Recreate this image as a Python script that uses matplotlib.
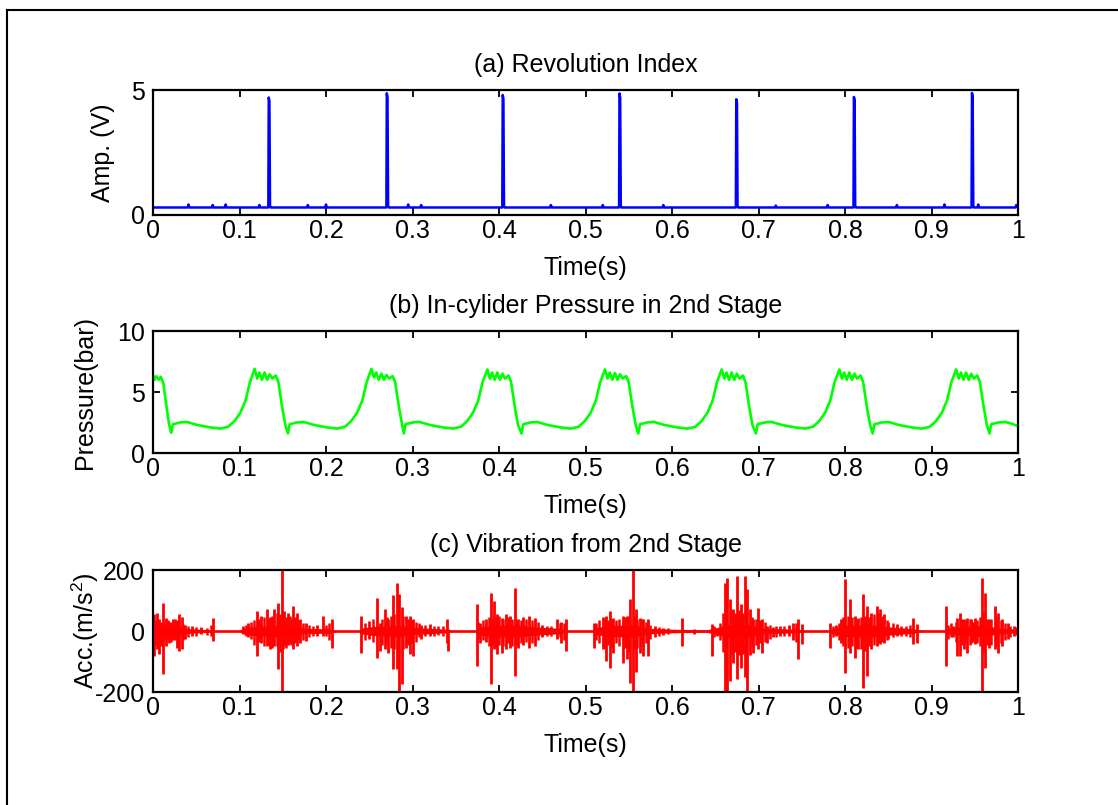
import matplotlib
matplotlib.use("Agg")
import matplotlib.pyplot as plt
from matplotlib.lines import Line2D

plt.rcParams['font.family'] = ['Liberation Sans', 'DejaVu Sans']
plt.rcParams['mathtext.fontset'] = 'custom'
plt.rcParams['mathtext.rm'] = 'Liberation Sans'
plt.rcParams['mathtext.it'] = 'Liberation Sans:italic'

# ---------------- data ----------------
x_ticks = [0, 0.1, 0.2, 0.3, 0.4, 0.5, 0.6, 0.7, 0.8, 0.9, 1.0]
x_tick_labels = ['0', '0.1', '0.2', '0.3', '0.4', '0.5', '0.6', '0.7', '0.8', '0.9', '1']

titles = ['(a) Revolution Index', '(b) In-cylider Pressure in 2nd Stage',
          '(c) Vibration from 2nd Stage']
ylabels = ['Amp. (V)', 'Pressure(bar)', 'Acc.(m/s$^2$)']

# (a) revolution index (V)
rev_t = [0.000, 0.040, 0.041, 0.042, 0.068, 0.069, 0.070, 0.083, 0.084, 0.085,
         0.122, 0.123, 0.124, 0.1333, 0.1338, 0.1346, 0.1353, 0.1360,
         0.178, 0.179, 0.180, 0.199, 0.200, 0.201, 0.2698, 0.2703, 0.2711, 0.2718, 0.2725,
         0.294, 0.295, 0.296, 0.309, 0.310, 0.311, 0.4038, 0.4043, 0.4051, 0.4058, 0.4065,
         0.459, 0.460, 0.461, 0.519, 0.520, 0.521, 0.5388, 0.5393, 0.5401, 0.5408, 0.5415,
         0.589, 0.590, 0.591, 0.6738, 0.6743, 0.6751, 0.6758, 0.6765,
         0.719, 0.720, 0.721, 0.779, 0.780, 0.781, 0.8098, 0.8103, 0.8111, 0.8118, 0.8125,
         0.859, 0.860, 0.861, 0.914, 0.915, 0.916, 0.9463, 0.9468, 0.9476, 0.9483, 0.9490,
         0.953, 0.954, 0.955, 0.997, 0.998, 0.999, 1.000]
rev_v = [0.30, 0.30, 0.42, 0.30, 0.30, 0.40, 0.30, 0.30, 0.42, 0.30,
         0.30, 0.40, 0.30, 0.30, 4.70, 4.55, 0.35, 0.30,
         0.30, 0.40, 0.30, 0.30, 0.42, 0.30, 0.30, 4.87, 4.70, 0.35, 0.30,
         0.30, 0.42, 0.30, 0.30, 0.40, 0.30, 0.30, 4.80, 4.65, 0.35, 0.30,
         0.30, 0.40, 0.30, 0.30, 0.40, 0.30, 0.30, 4.86, 4.70, 0.35, 0.30,
         0.30, 0.40, 0.30, 0.30, 4.63, 4.50, 0.35, 0.30,
         0.30, 0.38, 0.30, 0.30, 0.40, 0.30, 0.30, 4.72, 4.60, 0.35, 0.30,
         0.30, 0.40, 0.30, 0.30, 0.42, 0.30, 0.30, 4.88, 4.72, 0.40, 0.30,
         0.30, 0.42, 0.30, 0.30, 0.40, 0.32, 0.30]

# (b) in-cylinder pressure (bar)
pres_t = [0.000, 0.002, 0.004, 0.0066, 0.009, 0.012, 0.0158, 0.0185,
          0.021, 0.023, 0.031, 0.039, 0.051, 0.066, 0.078, 0.087, 0.094, 0.101, 0.107, 0.112,
          0.1175, 0.1205, 0.123, 0.126, 0.129, 0.132, 0.135, 0.138, 0.142, 0.145, 0.149, 0.153,
          0.156, 0.158, 0.166, 0.174, 0.186, 0.201, 0.213, 0.222, 0.229, 0.236, 0.242, 0.247,
          0.2525, 0.2555, 0.258, 0.261, 0.264, 0.267, 0.270, 0.273, 0.277, 0.280, 0.284, 0.288,
          0.290, 0.292, 0.300, 0.308, 0.320, 0.335, 0.347, 0.356, 0.363, 0.370, 0.376, 0.381,
          0.3865, 0.3895, 0.392, 0.395, 0.398, 0.401, 0.404, 0.407, 0.411, 0.414, 0.418, 0.422,
          0.426, 0.428, 0.436, 0.444, 0.456, 0.471, 0.483, 0.492, 0.499, 0.506, 0.512, 0.517,
          0.5225, 0.5255, 0.528, 0.531, 0.534, 0.537, 0.540, 0.543, 0.547, 0.550, 0.554, 0.558,
          0.561, 0.563, 0.571, 0.579, 0.591, 0.606, 0.618, 0.627, 0.634, 0.641, 0.647, 0.652,
          0.6575, 0.6605, 0.663, 0.666, 0.669, 0.672, 0.675, 0.678, 0.682, 0.685, 0.689, 0.693,
          0.697, 0.699, 0.707, 0.715, 0.727, 0.742, 0.754, 0.763, 0.770, 0.777, 0.783, 0.788,
          0.7935, 0.7965, 0.799, 0.802, 0.805, 0.808, 0.811, 0.814, 0.818, 0.821, 0.825, 0.829,
          0.832, 0.834, 0.842, 0.850, 0.862, 0.877, 0.889, 0.898, 0.905, 0.912, 0.918, 0.923,
          0.9285, 0.9315, 0.934, 0.937, 0.940, 0.943, 0.946, 0.949, 0.953, 0.956, 0.960, 0.964,
          0.967, 0.969, 0.977, 0.985, 0.993, 1.000]
pres_v = [6.40, 6.00, 6.30, 6.00, 6.25, 5.70, 3.70, 2.40,
          1.65, 2.35, 2.50, 2.55, 2.30, 2.10, 2.00, 2.15, 2.60, 3.30, 4.30, 5.80,
          6.90, 6.10, 6.60, 6.00, 6.60, 6.00, 6.45, 6.10, 6.35, 5.80, 3.90, 2.30,
          1.60, 2.35, 2.50, 2.55, 2.30, 2.10, 2.00, 2.15, 2.60, 3.30, 4.30, 5.80,
          6.90, 6.20, 6.60, 6.00, 6.50, 6.00, 6.40, 6.10, 6.30, 5.80, 3.90, 2.30,
          1.60, 2.35, 2.50, 2.55, 2.30, 2.10, 2.00, 2.15, 2.60, 3.30, 4.30, 5.80,
          6.85, 6.10, 6.60, 6.00, 6.60, 6.00, 6.50, 6.10, 6.35, 5.80, 3.90, 2.30,
          1.60, 2.35, 2.50, 2.55, 2.30, 2.10, 2.00, 2.15, 2.60, 3.30, 4.30, 5.80,
          6.85, 6.10, 6.60, 6.00, 6.55, 6.00, 6.45, 6.10, 6.30, 5.80, 3.90, 2.30,
          1.60, 2.35, 2.50, 2.55, 2.30, 2.10, 2.00, 2.15, 2.60, 3.30, 4.30, 5.80,
          6.85, 6.10, 6.60, 6.00, 6.60, 6.00, 6.50, 6.10, 6.35, 5.80, 3.90, 2.30,
          1.60, 2.35, 2.50, 2.55, 2.30, 2.10, 2.00, 2.15, 2.60, 3.30, 4.30, 5.80,
          6.85, 6.10, 6.60, 6.00, 6.60, 6.00, 6.50, 6.10, 6.35, 5.80, 3.90, 2.30,
          1.60, 2.35, 2.50, 2.55, 2.30, 2.10, 2.00, 2.15, 2.60, 3.30, 4.30, 5.80,
          6.85, 6.10, 6.60, 6.00, 6.60, 6.00, 6.50, 6.10, 6.35, 5.80, 3.90, 2.30,
          1.60, 2.35, 2.50, 2.55, 2.40, 2.20]

# (c) vibration (m/s^2): dense-core envelope
vib_env_t = [0.000, 0.003, 0.015, 0.030, 0.040, 0.060, 0.072, 0.100, 0.104, 0.115, 0.140,
             0.160, 0.175, 0.205, 0.212, 0.238, 0.242, 0.255, 0.285, 0.300, 0.320, 0.340,
             0.346, 0.372, 0.376, 0.390, 0.420, 0.440, 0.470, 0.480, 0.508, 0.512, 0.530,
             0.556, 0.575, 0.600, 0.640, 0.656, 0.665, 0.690, 0.705, 0.745, 0.755, 0.782,
             0.786, 0.800, 0.830, 0.850, 0.880, 0.890, 0.914, 0.918, 0.930, 0.960, 0.980, 1.000]
vib_env_hi = [8, 18, 16, 14, 8, 5, 3, 3, 9, 15, 18, 15, 9, 7, 3, 3, 10, 15, 18, 12, 9, 6,
              3, 3, 12, 18, 20, 14, 9, 3, 3, 12, 18, 20, 9, 6, 4, 14, 22, 20, 9, 6, 3, 3,
              9, 18, 20, 14, 7, 3, 3, 9, 14, 18, 9, 6]
vib_env_lo = [-8, -18, -16, -14, -8, -5, -3, -3, -9, -15, -18, -15, -9, -7, -3, -3, -10, -15,
              -18, -12, -9, -6, -3, -3, -12, -18, -20, -14, -9, -3, -3, -12, -18, -20, -9, -6,
              -4, -14, -22, -20, -9, -6, -3, -3, -9, -18, -20, -14, -7, -3, -3, -9, -14, -18,
              -9, -6]
# large individual spikes: time, max, min
vib_spk_t = [0.001, 0.0043, 0.007, 0.0112, 0.0147, 0.019, 0.023, 0.0274, 0.0305, 0.033, 0.037,
             0.045, 0.055, 0.0698,
             0.1045, 0.110, 0.1199, 0.125, 0.1314, 0.135, 0.140, 0.145, 0.1487, 0.152, 0.156,
             0.1622, 0.166, 0.170, 0.177, 0.190, 0.197, 0.2066,
             0.2401, 0.250, 0.2586, 0.262, 0.2682, 0.272, 0.2771, 0.2817, 0.2847, 0.2874, 0.292,
             0.297, 0.301, 0.310, 0.320, 0.3395, 0.3405,
             0.3741, 0.378, 0.385, 0.3904, 0.3942, 0.398, 0.403, 0.408, 0.413, 0.4181, 0.422,
             0.428, 0.435, 0.442, 0.450, 0.4669, 0.472, 0.4774,
             0.5098, 0.520, 0.524, 0.5283, 0.532, 0.5436, 0.548, 0.5515, 0.5546, 0.558, 0.563,
             0.567, 0.572, 0.580, 0.590, 0.6111, 0.625,
             0.6459, 0.652, 0.6613, 0.6640, 0.6671, 0.6709, 0.6748, 0.6794, 0.6844, 0.6871,
             0.690, 0.694, 0.6997, 0.704, 0.710, 0.717, 0.725, 0.735, 0.740, 0.7460, 0.750,
             0.7826, 0.790, 0.795, 0.7999, 0.8055, 0.811, 0.815, 0.8213, 0.825, 0.830, 0.8366,
             0.840, 0.845, 0.850, 0.860, 0.8791, 0.883,
             0.9167, 0.925, 0.930, 0.9330, 0.937, 0.941, 0.946, 0.950, 0.9580, 0.9615, 0.966,
             0.9734, 0.977, 0.982, 0.988, 0.995]
vib_spk_hi = [55, 60, 40, 93, 44, 30, 38, 35, 55, 45, 20, 15, 12, 44,
              15, 25, 65, 50, 71, 45, 71, 93, 200, 65, 60, 82, 60, 40, 25, 20, 49, 38,
              49, 33, 109, 27, 71, 38, 117, 158, 120, 80, 50, 49, 38, 20, 22, 38, 5,
              87, 27, 40, 126, 98, 55, 44, 55, 49, 142, 38, 45, 49, 44, 20, 38, 30, 38,
              27, 45, 50, 65, 44, 49, 49, 104, 200, 71, 44, 38, 38, 15, 10, 44, 8,
              22, 8, 158, 175, 104, 71, 180, 87, 180, 137, 71, 38, 77, 38, 16, 12, 15, 20,
              25, 38, 22,
              27, 20, 38, 169, 104, 49, 44, 120, 82, 60, 82, 71, 55, 30, 22, 44, 22,
              82, 15, 44, 60, 38, 44, 38, 44, 175, 126, 38, 82, 60, 38, 25, 15]
vib_spk_lo = [-82, -60, -75, -142, -49, -40, -30, -55, -65, -58, -25, -15, -10, -33,
              -10, -20, -82, -40, -49, -60, -49, -126, -200, -50, -45, -60, -50, -40, -33,
              -15, -15, -55,
              -73, -27, -87, -66, -60, -71, -126, -126, -205, -175, -55, -76, -82, -25, -15,
              -38, -65,
              -115, -38, -35, -175, -60, -75, -71, -60, -55, -148, -55, -45, -55, -49, -20,
              -25, -40, -65,
              -55, -60, -98, -120, -71, -104, -93, -170, -200, -136, -71, -82, -82, -20, -12,
              -49, -10,
              -82, -15, -205, -200, -164, -104, -158, -120, -150, -205, -80, -71, -60, -71,
              -38, -20, -15, -15, -30, -93, -44,
              -55, -15, -40, -137, -71, -87, -60, -186, -148, -60, -49, -44, -38, -25, -15,
              -44, -38,
              -115, -20, -82, -82, -60, -71, -38, -44, -205, -120, -55, -60, -71, -50, -25, -15]
# medium oscillations filling the bursts: time, max, min
vib_mid_t = [0.003, 0.009, 0.013, 0.017, 0.021, 0.025, 0.029, 0.035, 0.040, 0.050, 0.063, 0.067,
             0.107, 0.113, 0.117, 0.122, 0.128, 0.133, 0.138, 0.143, 0.147, 0.150, 0.154, 0.158,
             0.160, 0.164, 0.168, 0.173, 0.180, 0.185, 0.200, 0.203,
             0.245, 0.254, 0.265, 0.270, 0.275, 0.279, 0.289, 0.295, 0.299, 0.304, 0.307,
             0.315, 0.325, 0.330, 0.335,
             0.376, 0.381, 0.388, 0.392, 0.396, 0.400, 0.405, 0.410, 0.415, 0.420, 0.425,
             0.431, 0.438, 0.445, 0.455, 0.460, 0.470, 0.475,
             0.512, 0.516, 0.522, 0.526, 0.530, 0.535, 0.539, 0.546, 0.550, 0.556, 0.560,
             0.565, 0.570, 0.575, 0.585, 0.595,
             0.648, 0.656, 0.659, 0.6625, 0.669, 0.673, 0.677, 0.682, 0.686, 0.692, 0.697,
             0.702, 0.707, 0.713, 0.720, 0.730, 0.743,
             0.786, 0.793, 0.798, 0.803, 0.808, 0.813, 0.818, 0.823, 0.828, 0.833, 0.838,
             0.843, 0.848, 0.855, 0.865, 0.870, 0.875,
             0.919, 0.922, 0.928, 0.935, 0.939, 0.944, 0.948, 0.953, 0.956, 0.960, 0.964,
             0.969, 0.975, 0.980, 0.985, 0.991, 0.998]
vib_mid_hi = [35, 30, 25, 35, 28, 40, 25, 22, 15, 12, 10, 20,
              20, 30, 35, 40, 45, 40, 50, 60, 55, 50, 45, 50, 40, 45, 35, 25, 20, 18, 20, 25,
              25, 40, 40, 45, 50, 55, 50, 40, 35, 30, 25, 20, 15, 18, 15,
              30, 35, 45, 40, 45, 50, 40, 45, 40, 40, 35, 40, 35, 30, 15, 18, 25, 25,
              25, 35, 40, 35, 40, 35, 40, 45, 50, 50, 40, 40, 30, 20, 12, 10,
              15, 25, 60, 80, 70, 60, 70, 60, 60, 45, 40, 35, 30, 20, 18, 15, 25,
              15, 25, 45, 50, 45, 40, 45, 50, 45, 55, 60, 50, 35, 25, 15, 18, 20,
              20, 25, 30, 40, 35, 40, 30, 35, 45, 60, 40, 40, 45, 35, 25, 18, 12]
vib_mid_lo = [-45, -50, -30, -25, -35, -30, -40, -30, -20, -15, -12, -15,
              -15, -25, -45, -35, -50, -45, -55, -50, -70, -60, -55, -40, -45, -40, -30, -30,
              -20, -15, -18, -30,
              -30, -35, -45, -40, -55, -60, -60, -45, -40, -35, -20, -18, -15, -12, -15,
              -25, -30, -50, -45, -55, -45, -50, -40, -50, -45, -40, -35, -40, -30, -15, -15,
              -20, -30,
              -30, -40, -55, -45, -55, -40, -50, -55, -70, -60, -55, -50, -40, -25, -15, -10,
              -20, -30, -70, -90, -80, -70, -80, -75, -70, -50, -45, -40, -35, -25, -20, -15,
              -35,
              -20, -30, -50, -55, -50, -55, -60, -65, -50, -45, -40, -35, -30, -20, -15, -15,
              -20,
              -25, -20, -35, -45, -40, -45, -35, -40, -50, -70, -45, -45, -50, -40, -30, -20,
              -12]

# ---------------- figure ----------------
W, H = 1118, 805
fig = plt.figure(figsize=(W / 100, H / 100), dpi=100)

# axes boxes in pixels: (left, top, right, bottom)
boxes = [(153, 90, 1018, 215), (153, 331, 1018, 453), (153, 570, 1018, 692)]
axes = []
for (l, t, r, b) in boxes:
    ax = fig.add_axes([l / W, 1 - b / H, (r - l) / W, (b - t) / H])
    axes.append(ax)

FS = 18
blue, green, red = '#0000ff', '#00ff00', '#ff0000'

axes[0].plot(rev_t, rev_v, color=blue, lw=1.8)
axes[0].set_ylim(0, 5)
axes[0].set_yticks([0, 5])
axes[0].set_yticklabels(['0', '5'])

axes[1].plot(pres_t, pres_v, color=green, lw=1.9)
axes[1].set_ylim(0, 10)
axes[1].set_yticks([0, 5, 10])
axes[1].set_yticklabels(['0', '5', '10'])

ax3 = axes[2]
ax3.fill_between(vib_env_t, vib_env_lo, vib_env_hi, color=red, lw=0)
ax3.vlines(vib_mid_t, vib_mid_lo, vib_mid_hi, color=red, lw=1.8)
ax3.vlines(vib_spk_t, vib_spk_lo, vib_spk_hi, color=red, lw=2.0)
ax3.plot([0, 1], [0, 0], color=red, lw=1.8)
ax3.set_ylim(-200, 200)
ax3.set_yticks([-200, 0, 200])
ax3.set_yticklabels(['-200', '0', '200'])

ylab_x = [103, 85, 85]
for i, ax in enumerate(axes):
    l, t, r, b = boxes[i]
    h = b - t
    ax.set_xlim(0, 1)
    ax.set_xticks(x_ticks)
    ax.set_xticklabels(x_tick_labels)
    ax.tick_params(direction='in', top=True, right=True, length=5, width=1.3,
                   labelsize=FS, colors='black')
    ax.tick_params(axis='x', pad=3)
    ax.tick_params(axis='y', pad=6)
    for s in ax.spines.values():
        s.set_linewidth(1.6)
        s.set_color('black')
    ax.set_xlabel('Time(s)', fontsize=FS, va='center')
    ax.xaxis.set_label_coords(0.5, -53 / h)
    ax.set_ylabel(ylabels[i], fontsize=FS, va='center')
    ax.yaxis.set_label_coords((ylab_x[i] - l) / (r - l), 0.5)
    ax.text(0.5, 1 + 25 / h, titles[i], transform=ax.transAxes, ha='center',
            va='center', fontsize=FS)

# outer frame (top and left edges)
fig.add_artist(Line2D([7 / W, 7 / W], [0, 1 - 10 / H], color='black', lw=1.5,
                      transform=fig.transFigure))
fig.add_artist(Line2D([7 / W, 1], [1 - 10 / H, 1 - 10 / H], color='black', lw=1.5,
                      transform=fig.transFigure))

fig.savefig('out.png', dpi=100, facecolor='white')
